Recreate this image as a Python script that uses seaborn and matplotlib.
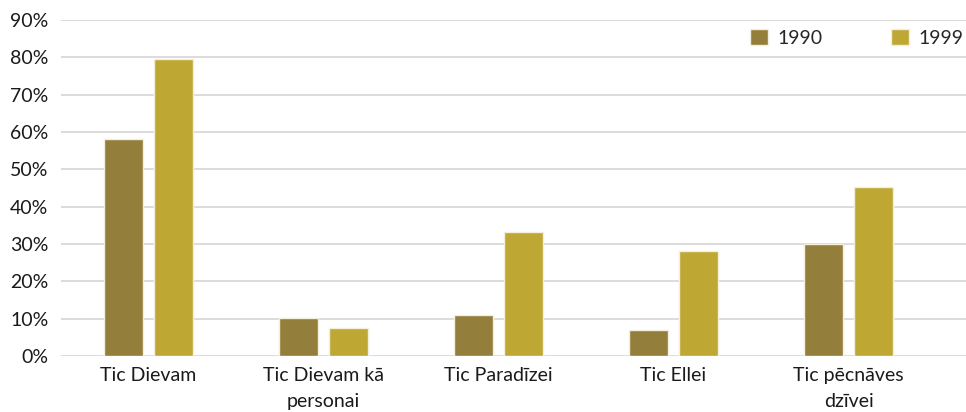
import numpy as np
import pandas as pd
import matplotlib
matplotlib.use("Agg")
import matplotlib.pyplot as plt
import seaborn as sns
from matplotlib.ticker import PercentFormatter

kategorijas = ["Tic Dievam", "Tic Dievam kā\npersonai", "Tic Paradīzei",
               "Tic Ellei", "Tic pēcnāves\ndzīvei"]
vertibas_1990 = [58.2, 10.3, 11.1, 7.0, 30.0]
vertibas_1999 = [79.5, 7.6, 33.3, 28.2, 45.2]
gadi = ["1990", "1999"]

df = pd.DataFrame({
    "kategorija": kategorijas * 2,
    "gads": [gadi[0]] * 5 + [gadi[1]] * 5,
    "vertiba": vertibas_1990 + vertibas_1999,
})

sns.set_theme(style="white")
plt.rcParams["font.family"] = ["Lato", "DejaVu Sans"]

fig = plt.figure(figsize=(9.66, 4.12), dpi=100)
ax = fig.add_axes([61 / 966, 56 / 412, 1 - 61 / 966, 336 / 412])

sns.barplot(data=df, x="kategorija", y="vertiba", hue="gads",
            palette=["#947e3b", "#bfa733"], saturation=1, width=0.571, gap=0.22,
            edgecolor="#f2efdf", linewidth=1, ax=ax)

ax.set_ylim(0, 90)
ax.set_xlim(-0.5, 4.671)
ax.set_yticks(np.arange(0, 91, 10))
ax.yaxis.set_major_formatter(PercentFormatter(decimals=0))
ax.yaxis.grid(True, color="#d9d9d9", linewidth=1.3)
ax.set_axisbelow(True)
for s in ax.spines.values():
    s.set_visible(False)
ax.tick_params(axis="both", length=0, labelsize=14, colors="#1a1a1a")
ax.tick_params(axis="y", pad=9)
ax.tick_params(axis="x", pad=8)
for lab in ax.get_xticklabels():
    lab.set_linespacing(1.6)
ax.set_xlabel("")
ax.set_ylabel("")

ax.legend(loc="center right", bbox_to_anchor=(1.006, 0.946), ncol=2, frameon=False,
          fontsize=14, handlelength=0.9, handleheight=0.9, columnspacing=3.55,
          handletextpad=0.5, borderaxespad=0.0)

fig.savefig("out.png", dpi=100)
